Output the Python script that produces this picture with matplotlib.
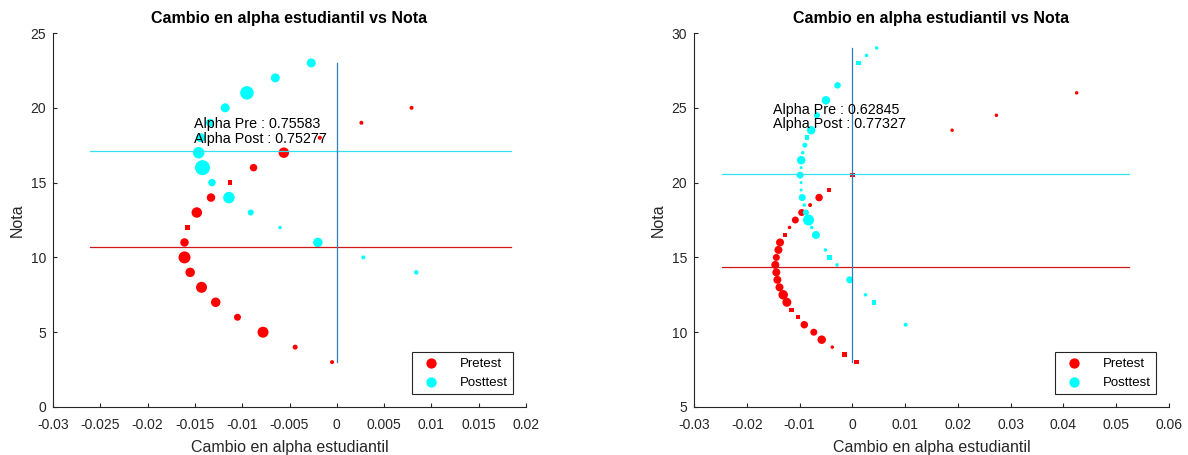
import numpy as np
import matplotlib.pyplot as plt

plt.rcParams['font.family'] = ['Liberation Sans', 'DejaVu Sans']

# ---------------- datos grupo 1 (izquierda) ----------------
nota_pre1 = [3, 4, 5, 6, 7, 8, 9, 10, 11, 12, 13, 14, 15, 16, 17, 18, 19, 20]
alpha_pre1 = [-0.0005, -0.0044, -0.0078, -0.0105, -0.0128, -0.0143, -0.0155, -0.0161, -0.0161,
              -0.0158, -0.0148, -0.0133, -0.0113, -0.0088, -0.0056, -0.0018, 0.0026, 0.0079]
peso_pre1 = [4, 5, 11, 7, 9.5, 11, 9.5, 12, 8.5, 5, 10.5, 8.5, 5, 7.5, 10.5, 4, 4, 4]

nota_post1 = [9, 10, 11, 12, 13, 14, 15, 16, 17, 18, 19, 20, 21, 22, 23]
alpha_post1 = [0.0084, 0.0028, -0.0020, -0.0060, -0.0091, -0.0114, -0.0132, -0.0142, -0.0146,
               -0.0144, -0.0134, -0.0118, -0.0095, -0.0065, -0.0027]
peso_post1 = [4.5, 4, 9.5, 3.5, 6, 11.5, 7.5, 15, 11.5, 9, 8, 9, 13.5, 9, 9]

media_pre1 = 10.67
media_post1 = 17.11
alpha_total1 = (0.75583, 0.75277)

# ---------------- datos grupo 2 (derecha) ----------------
nota_pre2 = [8, 8.5, 9, 9.5, 10, 10.5, 11, 11.5, 12, 12.5, 13, 13.5, 14, 14.5, 15, 15.5, 16,
             16.5, 17, 17.5, 18, 18.5, 19, 19.5, 20.5, 23.5, 24.5, 26]
alpha_pre2 = [0.0008, -0.0015, -0.0038, -0.0058, -0.0073, -0.0091, -0.0103, -0.0115, -0.0124,
              -0.0131, -0.0138, -0.0142, -0.0144, -0.0146, -0.0144, -0.0140, -0.0137, -0.0128,
              -0.0119, -0.0108, -0.0096, -0.0080, -0.0063, -0.0044, 0.0, 0.0189, 0.0273, 0.0425]
peso_pre2 = [5, 5, 3.5, 8.5, 7, 7.5, 5, 5, 9, 9.5, 8, 8, 8, 8, 7, 8, 8, 5, 3.5, 7, 7, 4, 7.5, 5,
             5, 3.5, 3.5, 3.5]

nota_post2 = [10.5, 12, 12.5, 13.5, 14.5, 15, 15.5, 16.5, 17, 17.5, 18, 18.5, 19, 19.5, 20, 20.5,
              21, 21.5, 22, 22.5, 23, 23.5, 24.5, 25.5, 26.5, 28, 28.5, 29]
alpha_post2 = [0.0101, 0.0041, 0.0025, -0.0005, -0.0029, -0.0043, -0.0051, -0.0069, -0.0077,
               -0.0083, -0.0088, -0.0091, -0.0095, -0.0097, -0.0097, -0.0099, -0.0097, -0.0097,
               -0.0094, -0.0090, -0.0086, -0.0078, -0.0067, -0.0050, -0.0028, 0.0012, 0.0027, 0.0046]
peso_post2 = [4, 5, 3.5, 7, 3.5, 5, 3.5, 8, 3.5, 11, 6, 3.5, 7, 3, 3, 7, 3, 8.5, 3.5, 5, 5, 8.5,
              6, 8.5, 6.5, 5, 3.5, 3.5]
media_pre2 = 14.36
media_post2 = 20.55
alpha_total2 = (0.62845, 0.77327)

# puntos que salen como cuadrados en la figura original
cuad_pre1 = [12, 15]
cuad_post1 = []
cuad_pre2 = [8, 8.5, 11, 11.5, 16.5, 19.5, 20.5]
cuad_post2 = [12, 15, 23, 28]


def puntos(ax, x, y, d, cuad, color, label):
    x = np.array(x); y = np.array(y); s = (np.array(d) * 0.72) ** 2
    es_c = np.isin(y, cuad)
    ax.scatter(x[~es_c], y[~es_c], s=s[~es_c], c=color, marker='o', linewidths=0, label=label)
    ax.scatter(x[es_c], y[es_c], s=s[es_c] * 0.8, c=color, marker='s', linewidths=0)


def panel(ax, pre, post, medias, alphas, xlim, ylim, xticks, yticks, txt_xy):
    puntos(ax, pre[0], pre[1], pre[2], pre[3], '#ff0000', 'Pretest')
    puntos(ax, post[0], post[1], post[2], post[3], '#00ffff', 'Posttest')
    todos_x = list(pre[0]) + list(post[0])
    todos_y = list(pre[1]) + list(post[1])
    x0, x1 = min(todos_x) - 0.01, max(todos_x) + 0.01
    ax.plot([x0, x1], [medias[0], medias[0]], color='#d01818', lw=0.9)
    ax.plot([x0, x1], [medias[1], medias[1]], color='#33e0f0', lw=0.9)
    ax.plot([0, 0], [min(todos_y), max(todos_y)], color='#2f7fbf', lw=0.9)
    ax.text(txt_xy[0], txt_xy[1], 'Alpha Pre : %.5f\nAlpha Post : %.5f' % alphas,
            fontsize=10.3, va='center', ha='left', linespacing=1.05)
    ax.set_xlim(xlim); ax.set_ylim(ylim)
    ax.set_xticks(xticks); ax.set_yticks(yticks)
    ax.set_xticklabels([('%g' % t) for t in xticks])
    ax.spines['top'].set_visible(False); ax.spines['right'].set_visible(False)
    for sp in ('left', 'bottom'):
        ax.spines[sp].set_color('#262626'); ax.spines[sp].set_linewidth(0.8)
    ax.tick_params(direction='in', length=3, width=0.8, colors='#262626', labelsize=10, pad=5)
    ax.tick_params(axis='x', pad=8)
    ax.set_xlabel('Cambio en alpha estudiantil', fontsize=11.5, color='#262626', labelpad=6)
    ax.set_ylabel('Nota', fontsize=11.5, color='#262626', labelpad=4)
    ax.set_title('Cambio en alpha estudiantil vs Nota', fontsize=11.5, fontweight='bold', pad=7)
    leg = ax.legend(loc='lower right', fontsize=9.5, fancybox=False, edgecolor='#262626',
                    borderaxespad=1.0, handletextpad=1.2, markerscale=1.0, framealpha=1)
    for h in leg.legend_handles:
        h.set_sizes([55])
    leg.get_frame().set_linewidth(0.8)


fig = plt.figure(figsize=(11.88, 4.55), dpi=100)
ax1 = fig.add_axes([53 / 1188, 48 / 455, 473 / 1188, 374 / 455])
ax2 = fig.add_axes([694 / 1188, 48 / 455, 475 / 1188, 374 / 455])

panel(ax1, (alpha_pre1, nota_pre1, peso_pre1, cuad_pre1),
      (alpha_post1, nota_post1, peso_post1, cuad_post1),
      (media_pre1, media_post1), alpha_total1, (-0.03, 0.02), (0, 25),
      np.round(np.arange(-0.03, 0.0201, 0.005), 3), np.arange(0, 26, 5), (-0.0151, 18.4))
panel(ax2, (alpha_pre2, nota_pre2, peso_pre2, cuad_pre2),
      (alpha_post2, nota_post2, peso_post2, cuad_post2),
      (media_pre2, media_post2), alpha_total2, (-0.03, 0.06), (5, 30),
      np.round(np.arange(-0.03, 0.0601, 0.01), 2), np.arange(5, 31, 5), (-0.0151, 24.4))

fig.savefig('out.png', dpi=100)
